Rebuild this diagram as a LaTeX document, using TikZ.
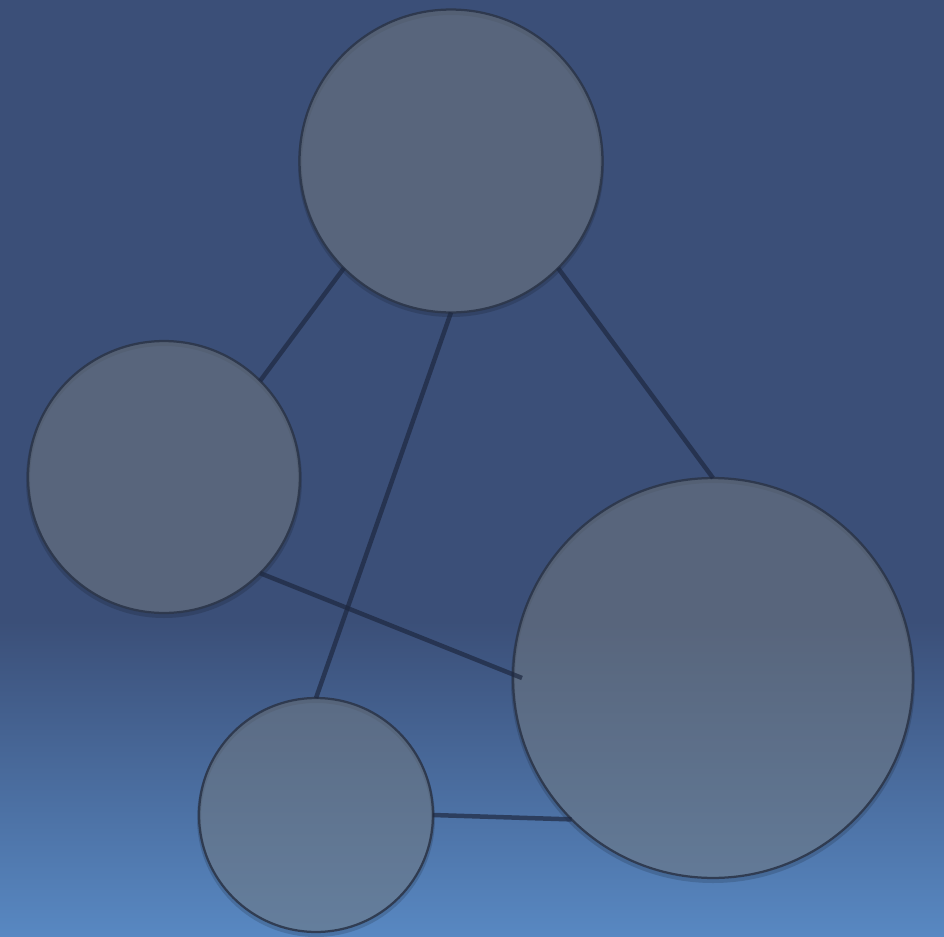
\documentclass[tikz,border=0pt]{standalone}
\usetikzlibrary{calc}
\definecolor{bgtop}{RGB}{59,79,120}
\definecolor{bgbot}{RGB}{88,136,194}
\definecolor{ballfill}{RGB}{112,120,128}
\definecolor{balledge}{RGB}{44,54,74}
\definecolor{linkcol}{RGB}{30,40,64}
\begin{document}
\begin{tikzpicture}[x=0.02cm,y=-0.02cm,
ball/.style={circle,draw=balledge,line width=0.045cm,fill=ballfill,fill opacity=0.55,draw opacity=0.9,inner sep=0pt,outer sep=0pt},
halo/.style={draw=black,line width=0.08cm,opacity=0.15},
link/.style={draw=linkcol,line width=0.09cm,draw opacity=0.7}]
\useasboundingbox (0,0) rectangle (944,937);
\fill[bgtop] (0,0) rectangle (944,622);
\shade[top color=bgtop,bottom color=bgbot] (0,621) rectangle (944,937);
\draw[halo] (451,164) circle (151);
\draw[halo] (164,480) circle (136);
\draw[halo] (713,681) circle (200);
\draw[halo] (316,818) circle (117);
\node[ball,minimum size=6.06cm] (top) at (451,161) {};
\node[ball,minimum size=5.44cm] (left) at (164,477) {};
\node[ball,minimum size=8cm] (right) at (713,678) {};
\node[ball,minimum size=4.68cm] (bottom) at (316,815) {};
\draw[link] (top.225) -- (left.45);
\draw[link] (top.south) -- (bottom.north);
\draw[link] (top.-45) -- (right.north);
\draw[link] (left.-45) -- ([xshift=0.18cm]right.west);
\draw[link] (bottom.east) -- (right.225);
\end{tikzpicture}
\end{document}
